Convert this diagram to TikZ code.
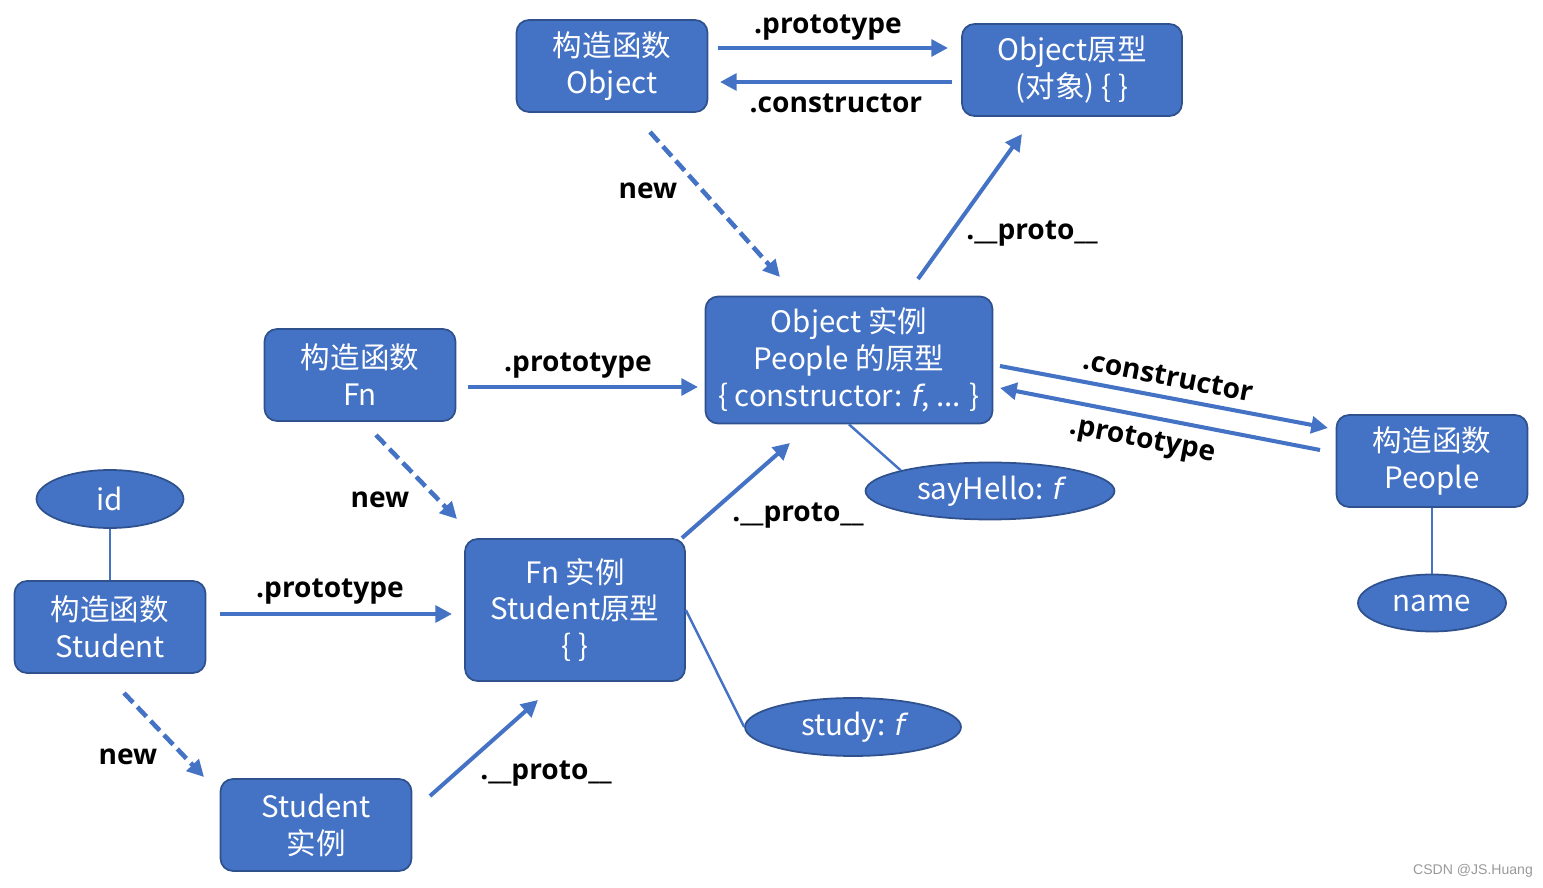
\documentclass[tikz,border=0pt]{standalone}
\usepackage{fontspec}
\setmainfont{Noto Sans CJK SC}
\newfontfamily\lblfont{Open Sans}
\newfontfamily\symfont{DejaVu Sans}
\newfontfamily\markfont{Liberation Sans}
\usepackage{xcolor}
\usepackage{tikz}
\usetikzlibrary{arrows.meta, positioning, shapes.geometric}
\definecolor{boxblue}{HTML}{4472C4}
\definecolor{boxline}{HTML}{2F528F}
\newcommand{\fsym}{{\symfont\itshape f}}

\begin{document}
\begin{tikzpicture}[x=0.02cm, y=-0.02cm,
    box/.style={rectangle, rounded corners=0.25cm, fill=boxblue, draw=boxline, line width=1pt,
        text=white, align=center, inner sep=0pt, minimum width=3.82cm, minimum height=1.84cm,
        font=\fontsize{16.8}{21}\selectfont},
    oval/.style={ellipse, fill=boxblue, draw=boxline, line width=1pt, text=white, inner sep=0pt,
        font=\fontsize{16.8}{21}\selectfont},
    arr/.style={draw=boxblue, line width=2.3pt, -{Triangle[length=9.5pt, width=9.5pt]}},
    newarr/.style={arr, line width=2.6pt, dash pattern=on 7.5pt off 3.5pt},
    link/.style={draw=boxblue, line width=1.4pt},
    lbl/.style={font=\lblfont\bfseries\fontsize{16}{19}\selectfont, text=black, inner sep=0pt, yshift=-2pt}]
    \useasboundingbox (0,0) rectangle (1543,888);
    % boxes
    \node[box] (cObj) at (612,66) {构造函数\\Object};
    \node[box, minimum width=4.4cm] (pObj) at (1072,70) {Object原型\\(对象) \{ \}};
    \node[box, minimum width=5.74cm, minimum height=2.54cm] (instObj) at (849,360)
        {Object 实例\\People 的原型\\\{ constructor: \fsym, ... \}};
    \node[box] (cFn) at (360,375) {构造函数\\Fn};
    \node[box] (cPeople) at (1432,461) {构造函数\\People};
    \node[box, minimum width=4.4cm, minimum height=2.84cm] (instFn) at (575,610) {Fn 实例\\Student原型\\\{ \}};
    \node[box] (cStu) at (110,627) {构造函数\\Student};
    \node[box] (instStu) at (316,825) {Student\\实例};
    % ovals
    \node[oval, minimum width=2.94cm, minimum height=1.16cm] (id) at (110,499) {id};
    \node[oval, minimum width=4.98cm, minimum height=1.14cm] (sayHello) at (990,491) {sayHello: \fsym};
    \node[oval, minimum width=2.96cm, minimum height=1.14cm] (name) at (1432,603) {name};
    \node[oval, minimum width=4.32cm, minimum height=1.16cm] (study) at (853,727) {study: \fsym};
    % plain links
    \draw[link] (id) -- (cStu);
    \draw[link] (cPeople) -- (name);
    \draw[link] (instObj.south) -- (sayHello.167);
    \draw[link] (instFn.east) -- (study.west);
    % arrow ends
    \coordinate (t1s) at (718,48);   \coordinate (t1e) at (948,48);
    \coordinate (t2s) at (952,82);   \coordinate (t2e) at (720,82);
    \coordinate (t3s) at (918,279);  \coordinate (t3e) at (1022,134);
    \coordinate (t4s) at (468,387);  \coordinate (t4e) at (698,387);
    \coordinate (t5s) at (1000,366); \coordinate (t5e) at (1328,428);
    \coordinate (t6s) at (1320,450); \coordinate (t6e) at (1000,388);
    \coordinate (t7s) at (682,538);  \coordinate (t7e) at (790,443);
    \coordinate (t8s) at (220,614);  \coordinate (t8e) at (452,614);
    \coordinate (t9s) at (430,796);  \coordinate (t9e) at (538,700);
    \coordinate (n1s) at (650,132);  \coordinate (n1e) at (780,277);
    \coordinate (n2s) at (376,435);  \coordinate (n2e) at (457,519);
    \coordinate (n3s) at (124,693);  \coordinate (n3e) at (204,777);
    \foreach \i in {1,...,9} {
        \draw[arr] (t\i s) -- (t\i e);
    }
    \foreach \i in {1,2,3} {
        \draw[newarr] (n\i s) -- (n\i e);
    }
    % labels
    \node[lbl] (l1) at (828,24) {.prototype};
    \node[lbl] (l2) at (836,100) {.constructor};
    \node[lbl] (l3) at (1032,230) {.\_\_proto\_\_};
    \node[lbl] (l4) at (578,362) {.prototype};
    \node[lbl, rotate=-11] (l5) at (1168,373) {.constructor};
    \node[lbl, rotate=-11] (l6) at (1142,438) {.prototype};
    \node[lbl] (l7) at (798,512) {.\_\_proto\_\_};
    \node[lbl] (l8) at (330,588) {.prototype};
    \node[lbl] (l9) at (546,770) {.\_\_proto\_\_};
    \node[lbl] (m1) at (648,187) {new};
    \node[lbl] (m2) at (380,496) {new};
    \node[lbl] (m3) at (128,753) {new};
    \node[font=\markfont\fontsize{8}{9}\selectfont, text=gray!80] (mark) at (1473,871) {CSDN @JS.Huang};
\end{tikzpicture}
\end{document}
